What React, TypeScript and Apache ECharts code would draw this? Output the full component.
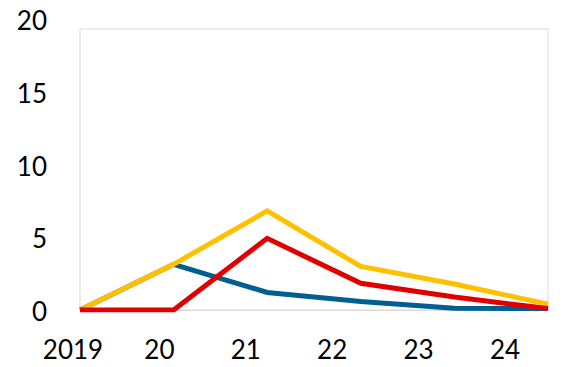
import React, { useEffect, useRef } from "react";
import * as echarts from "echarts";

const years = ["2019", "20", "21", "22", "23", "24"];
const blueSeries = [0, 3.25, 1.25, 0.6, 0.12, 0.1];
const yellowSeries = [0, 3.25, 7.05, 3.1, 1.85, 0.42];
const redSeries = [0, 0, 5.1, 1.9, 0.92, 0.1];
const yTicks = { min: 0, max: 20, interval: 5 };

const FONT = "Lato, 'Open Sans', sans-serif";

export default function App() {
  const ref = useRef<HTMLDivElement>(null);

  useEffect(() => {
    if (!ref.current) return;
    const chart = echarts.init(ref.current, null, { renderer: "svg" });
    const line = (name: string, data: number[], color: string) => ({
      name,
      type: "line",
      data,
      xAxisIndex: 0,
      yAxisIndex: 0,
      symbol: "none",
      lineStyle: { width: 5, color, join: "miter" },
      itemStyle: { color },
    });
    const hidden = { show: false };
    chart.setOption({
      animation: false,
      backgroundColor: "#ffffff",
      grid: [
        // plot area with its light frame
        {
          left: 80,
          right: 18,
          top: 29,
          bottom: 57,
          show: true,
          borderColor: "#d9d9d9",
          borderWidth: 1,
        },
        // label layer: tick labels sit on their own, slightly wider spacing
        { left: 73, right: 61, top: 20, bottom: 56 },
      ],
      xAxis: [
        {
          gridIndex: 0,
          type: "category",
          data: years,
          boundaryGap: false,
          axisLine: { show: true, lineStyle: { color: "#d9d9d9", width: 1 } },
          axisTick: hidden,
          axisLabel: hidden,
          splitLine: hidden,
        },
        {
          gridIndex: 1,
          type: "category",
          data: years,
          boundaryGap: false,
          axisLine: hidden,
          axisTick: hidden,
          axisLabel: {
            color: "#000000",
            fontFamily: FONT,
            fontSize: 26,
            margin: 25,
          },
          splitLine: hidden,
        },
      ],
      yAxis: [
        {
          gridIndex: 0,
          type: "value",
          min: yTicks.min,
          max: yTicks.max,
          interval: yTicks.interval,
          axisLine: hidden,
          axisTick: hidden,
          axisLabel: hidden,
          splitLine: hidden,
        },
        {
          gridIndex: 1,
          type: "value",
          min: yTicks.min,
          max: yTicks.max,
          interval: yTicks.interval,
          axisLine: hidden,
          axisTick: hidden,
          axisLabel: {
            color: "#000000",
            fontFamily: FONT,
            fontSize: 26,
            margin: 26,
          },
          splitLine: hidden,
        },
      ],
      series: [
        line("blue", blueSeries, "#005f90"),
        line("yellow", yellowSeries, "#ffc000"),
        line("red", redSeries, "#e00000"),
      ],
    });
    return () => chart.dispose();
  }, []);

  return (
    <div
      ref={ref}
      style={{ width: 566, height: 367, position: "absolute", left: 0, top: 0 }}
    />
  );
}
